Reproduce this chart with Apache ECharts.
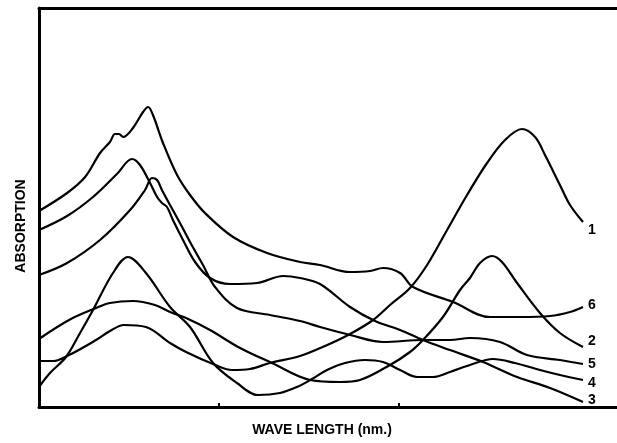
<!DOCTYPE html>
<html>
<head>
<meta charset="utf-8">
<script src="https://cdn.jsdelivr.net/npm/echarts@6/dist/echarts.min.js"></script>
<style>
html,body{margin:0;padding:0;background:#fff;}
#chart{width:617px;height:443px;}
</style>
</head>
<body>
<div id="chart"></div>
<script>
// Curve labels (right-hand side)
const curveNames = ['1', '2', '3', '4', '5', '6'];
// Axis titles
const xTitle = 'WAVE LENGTH (nm.)';
const yTitle = 'ABSORPTION';
// Bottom-axis tick positions (no labels in the original)
const xTicks = [100, 200];

// [wavelength (arbitrary units), absorption (arbitrary units)]
const curve1 = [[0,46],[7.8,46],[16.7,52],[31.7,67],[39.4,76],[47.2,82],[59.4,80],[72.8,64],[81.7,55],[96.7,43],[107.2,37],[117.2,38],[128.3,44],[145,51],[158.9,61],[172.8,73],[185.6,87],[195,102],[206.1,119],[215.6,142],[226.7,177],[237.8,212],[248.9,244],[258.9,267],[268.3,278],[275.6,270],[281.1,252],[289.4,222],[295,202],[302.2,185]];
const curve2 = [[0,68],[16.7,87],[31.7,99],[39.4,104],[52.2,106],[64.4,102],[72.8,95],[81.7,89],[95,77],[111.7,59],[129.4,44],[150.6,27],[167.2,25],[178.3,27],[195,42],[206.1,55],[213.3,67],[224.4,90],[233.9,117],[239.4,129],[245,144],[251.7,151],[257.2,145],[265.6,124],[278.3,94],[289.4,74],[302.2,60]];
const curve3 = [[0,177],[15.6,191],[30,210],[43.3,233],[51.7,248],[56.1,242],[61.7,224],[65.6,210],[68.3,204],[71.1,200],[74.4,187],[80,167],[86.7,145],[95,129],[106.1,123],[121.1,124],[135.6,131],[145,129],[156.1,123],[172.8,100],[186.7,86],[200.6,77],[213.3,67],[228.3,57],[246.7,45],[265.6,30],[283.9,19],[302.2,5]];
const curve4 = [[0,20],[6.1,34],[15,50],[22.8,74],[30,97],[41.1,134],[49.4,150],[59.4,134],[72.8,100],[83.9,80],[96.7,44],[110,24],[121.7,12],[133.9,14],[143.3,20],[151.7,28],[160,37],[170,44],[181.1,47],[191.1,45],[200.6,37],[210,30],[218.9,30],[228.3,35],[239.4,42],[252.2,48],[264.4,44],[278.3,37],[289.4,32],[302.2,27]];
const curve5 = [[0,132],[15.6,144],[33.9,167],[50.6,197],[58.9,217],[62.8,229],[65.6,227],[68.3,217],[72.8,202],[78.3,184],[83.9,165],[91.1,142],[97.8,120],[110,99],[128.3,92],[145,86],[156.1,80],[172.8,72],[191.1,65],[213.3,67],[228.3,67],[239.4,69],[256.1,65],[271.1,52],[289.4,47],[302.2,43]];
const curve6 = [[0,196],[15.6,214],[25.6,230],[33.9,254],[39.4,265],[42.2,273],[44.4,273],[46.7,270],[52.2,279],[57.8,295],[60.6,300],[63.3,292],[68.9,264],[76.7,232],[83.9,212],[92.2,194],[107.8,170],[126.7,154],[145,145],[156.1,142],[172.8,135],[183.9,136],[191.1,139],[200.6,134],[207.8,120],[230,105],[250.6,90],[267.2,90],[283.9,91],[295,95],[302.2,100]];

const curves = [curve1, curve2, curve3, curve4, curve5, curve6];
const labelOffsets = [[0,8],[0,-6],[0,-2],[0,3],[0,0],[0,-2]];

const chart = echarts.init(document.getElementById('chart'), null, {renderer: 'canvas'});
const FONT = '"Liberation Sans", Arial, Helvetica, sans-serif';

chart.setOption({
  animation: false,
  backgroundColor: '#ffffff',
  grid: {left: 39, right: 0, top: 8, bottom: 36, containLabel: false},
  xAxis: [{
    type: 'value', min: 0, max: 321.1, position: 'bottom',
    axisLine: {show: true, onZero: false, lineStyle: {color: '#000', width: 3}},
    axisTick: {show: true, inside: true, length: 4, customValues: xTicks, lineStyle: {color: '#000', width: 2}},
    axisLabel: {show: false},
    splitLine: {show: false}
  }, {
    type: 'value', min: 0, max: 321.1, position: 'top',
    axisLine: {show: true, onZero: false, lineStyle: {color: '#000', width: 3}},
    axisTick: {show: false}, axisLabel: {show: false}, splitLine: {show: false}
  }],
  yAxis: {
    type: 'value', min: 0, max: 399,
    axisLine: {show: true, onZero: false, lineStyle: {color: '#000', width: 3}},
    axisTick: {show: false}, axisLabel: {show: false}, splitLine: {show: false}
  },
  graphic: [{
    type: 'text', x: 21, y: 226, rotation: Math.PI / 2,
    style: {text: yTitle, font: 'bold 14px ' + FONT, fill: '#000', textAlign: 'center', textVerticalAlign: 'middle'}
  }, {
    type: 'text', x: 322, y: 430,
    style: {text: xTitle, font: 'bold 14px ' + FONT, fill: '#000', textAlign: 'center', textVerticalAlign: 'middle'}
  }],
  series: curves.map((d, i) => ({
    name: curveNames[i],
    type: 'line',
    data: d,
    smooth: 0.35,
    symbol: 'none',
    clip: false,
    lineStyle: {color: '#000', width: 2.2},
    endLabel: {
      show: true,
      formatter: curveNames[i],
      distance: 5,
      offset: labelOffsets[i],
      color: '#000',
      fontWeight: 'bold',
      fontSize: 14,
      fontFamily: FONT
    }
  }))
});
</script>
</body>
</html>
